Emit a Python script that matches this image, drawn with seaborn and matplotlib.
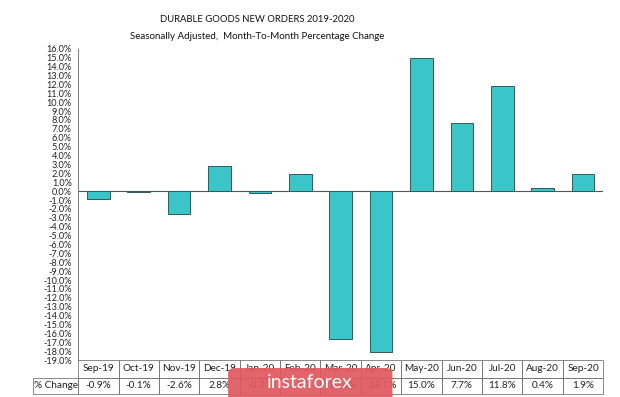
import numpy as np
import matplotlib.pyplot as plt
import seaborn as sns
from matplotlib.patches import FancyBboxPatch, Rectangle
from matplotlib.ticker import FuncFormatter

months = ["Sep-19", "Oct-19", "Nov-19", "Dec-19", "Jan-20", "Feb-20", "Mar-20",
          "Apr-20", "May-20", "Jun-20", "Jul-20", "Aug-20", "Sep-20"]
pct = [-0.9, -0.1, -2.6, 2.8, -0.2, 1.9, -16.6, -18.1, 15.0, 7.7, 11.8, 0.4, 1.9]

sns.set_style("white")
plt.rcParams['font.family'] = ['Lato', 'DejaVu Sans']

fig, ax = plt.subplots(figsize=(6.2, 3.97), dpi=100)
fig.subplots_adjust(left=0.126, right=0.973, bottom=0.093, top=0.877)

sns.barplot(x=months, y=pct, color="#3AC6C9", saturation=1, width=0.56,
            edgecolor="#34595c", linewidth=0.7, ax=ax)

ax.set_ylim(-19, 16)
ax.set_xlim(-0.5, len(months) - 0.5)
ax.set_yticks(np.arange(-19, 17))
ax.yaxis.set_major_formatter(FuncFormatter(lambda v, p: f"{v:.1f}%"))
ax.tick_params(axis='y', length=3, width=0.6, labelsize=6.6, labelcolor='#222',
               color='#777', direction='out', pad=1.5)
ax.set_xticks([])
ax.set_xlabel("")
for s in ["top", "right", "bottom"]:
    ax.spines[s].set_visible(False)
ax.spines["left"].set_color("#777")
ax.spines["left"].set_linewidth(0.7)
ax.axhline(0, color="#555", lw=0.8, zorder=0)

# data table under the bars, columns aligned with the bar slots
tr = ax.get_xaxis_transform()
r1, r2 = -0.056, -0.108
lab_w = 45 / 40.4
cell_kw = dict(transform=tr, clip_on=False, fill=False, edgecolor="#777", lw=0.6)
txt_kw = dict(transform=tr, clip_on=False, ha="center", va="center",
              fontsize=7.2, color="#222")
for i, (m, v) in enumerate(zip(months, pct)):
    ax.add_patch(Rectangle((i - 0.5, r1), 1, -r1, **cell_kw))
    ax.add_patch(Rectangle((i - 0.5, r2), 1, r1 - r2, **cell_kw))
    ax.text(i, r1 / 2, m, **txt_kw)
    ax.text(i, (r1 + r2) / 2, f"{v:.1f}%", **txt_kw)
ax.add_patch(Rectangle((-0.5 - lab_w, r2), lab_w, r1 - r2, **cell_kw))
ax.text(-0.5 - lab_w / 2, (r1 + r2) / 2, "% Change", **txt_kw)

fig.text(0.415, 0.95, "DURABLE GOODS NEW ORDERS 2019-2020", ha="center",
         va="center", fontsize=6.8, color="#111")
fig.text(0.415, 0.909, "Seasonally Adjusted,  Month-To-Month Percentage Change",
         ha="center", va="center", fontsize=7.0, color="#111")

# watermark
fig.patches.append(FancyBboxPatch((0.368, -0.02), 0.265, 0.093,
                                  boxstyle="round,pad=0,rounding_size=0.012",
                                  transform=fig.transFigure, facecolor="#E0585E",
                                  edgecolor="none", alpha=0.92, zorder=5))
fig.text(0.50, 0.037, "instaforex", ha="center", va="center", fontsize=14,
         color="white", zorder=6)

fig.savefig("out.png", dpi=100)
